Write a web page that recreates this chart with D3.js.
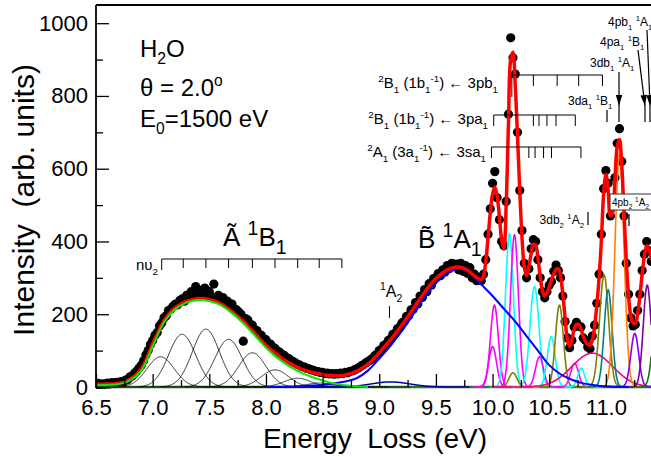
<!DOCTYPE html>
<html>
<head>
<meta charset="utf-8">
<script src="https://cdn.jsdelivr.net/npm/d3@7"></script>
<style>
  body{margin:0;background:#fff;}
  svg{display:block;font-family:"Liberation Sans",Arial,sans-serif;}
</style>
</head>
<body>
<svg id="chart" width="651" height="457"></svg>
<script>
// measured points (energy loss eV / intensity)
const dotE = [6.50,6.52,6.54,6.56,6.58,6.60,6.62,6.64,6.66,6.68,6.70,6.72,6.74,6.76,6.78,6.80,6.82,6.84,6.86,6.88,
  6.90,6.92,6.94,6.96,6.98,7.00,7.02,7.04,7.06,7.08,7.10,7.12,7.14,7.16,7.18,7.20,7.22,7.24,7.26,7.28,
  7.30,7.32,7.34,7.36,7.38,7.40,7.42,7.44,7.46,7.48,7.50,7.52,7.54,7.56,7.58,7.60,7.62,7.64,7.66,7.68,
  7.70,7.72,7.74,7.76,7.78,7.80,7.82,7.84,7.86,7.88,7.90,7.92,7.94,7.96,7.98,8.00,8.02,8.04,8.06,8.08,
  8.10,8.12,8.14,8.16,8.18,8.20,8.22,8.24,8.26,8.28,8.30,8.32,8.34,8.36,8.38,8.40,8.42,8.44,8.46,8.48,
  8.50,8.52,8.54,8.56,8.58,8.60,8.62,8.64,8.66,8.68,8.70,8.72,8.74,8.76,8.78,8.80,8.82,8.84,8.86,8.88,
  8.90,8.92,8.94,8.96,8.98,9.00,9.02,9.04,9.06,9.08,9.10,9.12,9.14,9.16,9.18,9.20,9.22,9.24,9.26,9.28,
  9.30,9.32,9.34,9.36,9.38,9.40,9.42,9.44,9.46,9.48,9.50,9.52,9.54,9.56,9.58,9.60,9.62,9.64,9.66,9.68,
  9.70,9.72,9.74,9.76,9.78,9.80,9.82,9.84,9.86,9.88,9.90,9.92,9.94,9.96,9.98,10.00,10.02,10.04,10.06,10.08,
  10.10,10.12,10.14,10.16,10.18,10.20,10.22,10.24,10.26,10.28,10.30,10.32,10.34,10.36,10.38,10.40,10.42,10.44,10.46,10.48,
  10.50,10.52,10.54,10.56,10.58,10.60,10.62,10.64,10.66,10.68,10.70,10.72,10.74,10.76,10.78,10.80,10.82,10.84,10.86,10.88,
  10.90,10.92,10.94,10.96,10.98,11.00,11.02,11.04,11.06,11.08,11.10,11.12,11.14,11.16,11.18,11.20,11.22,11.24,11.26,11.28,
  11.30,11.32,11.34,11.36,11.38,11.40];
const dotI = [5,10,6,9,7,11,8,12,9,13,11,15,13,19,20,28,30,38,44,52,
  60,72,88,100,117,128,142,150,168,176,190,196,210,214,222,228,226,238,242,236,
  252,246,262,250,276,258,266,250,272,255,262,248,283,245,252,240,246,232,236,224,
  228,215,212,206,200,126,188,184,172,170,158,155,145,142,132,130,120,118,110,106,
  99,96,90,87,81,78,73,70,66,62,60,56,55,51,50,47,46,43,42,40,
  40,37,38,36,37,35,37,36,38,37,40,39,43,44,47,50,53,58,61,66,
  70,74,78,86,90,100,104,114,118,128,132,145,148,160,165,176,180,194,196,212,
  214,232,228,250,246,268,262,284,280,298,300,312,306,322,316,334,326,340,332,338,
  322,340,318,334,312,328,300,310,292,300,292,310,350,420,490,560,592,520,460,400,
  388,510,750,960,905,860,700,540,430,340,300,325,380,405,400,350,300,262,245,262,
  280,290,318,335,320,300,250,180,135,108,128,165,178,168,165,135,128,110,105,140,
  170,230,310,420,545,595,560,470,500,575,670,710,620,470,340,255,190,168,172,210,
  255,320,365,400,375,345];

// total fit (red)
const fitE = [6.50,6.60,6.70,6.75,6.80,6.85,6.90,6.95,7.00,7.05,7.10,7.15,7.20,7.25,7.30,7.35,7.40,7.45,7.50,7.55,
  7.60,7.65,7.70,7.75,7.80,7.85,7.90,7.95,8.00,8.05,8.10,8.15,8.20,8.25,8.30,8.35,8.40,8.45,8.50,8.55,
  8.60,8.65,8.70,8.75,8.80,8.85,8.90,8.95,9.00,9.10,9.20,9.30,9.40,9.50,9.60,9.65,9.70,9.75,9.80,9.85,9.90,
  9.92,9.94,9.96,9.98,10.00,10.02,10.04,10.06,10.08,10.10,10.12,10.14,10.16,10.18,10.20,10.22,10.24,10.26,10.28,
  10.30,10.32,10.34,10.36,10.38,10.40,10.42,10.44,10.46,10.48,10.50,10.52,10.54,10.56,10.58,10.60,10.62,10.64,10.66,10.68,
  10.70,10.72,10.74,10.76,10.78,10.80,10.82,10.84,10.86,10.88,10.90,10.92,10.94,10.96,10.98,11.00,11.02,11.04,11.06,11.08,
  11.10,11.12,11.14,11.16,11.18,11.20,11.22,11.24,11.26,11.28,11.30,11.32,11.34,11.36,11.38,11.40];
const fitI = [8,8,10,13,22,33,50,80,118,152,182,203,218,228,236,240,243,243,240,236,
  229,219,207,194,180,164,148,131,115,101,88,77,67,58,51,45,41,37,34,32,
  31,31,33,37,43,52,63,77,94,130,170,215,260,298,322,328,330,326,316,303,295,
  305,345,410,480,530,550,525,470,405,380,500,720,900,920,830,690,540,410,330,
  305,330,365,392,390,355,305,265,250,258,275,295,312,323,325,305,255,190,130,112,
  130,158,172,172,160,140,125,117,115,128,165,225,300,400,530,585,540,470,480,570,
  660,680,610,480,350,250,195,176,175,200,250,310,360,388,380,350];

// A-band envelope (green) and B-band (blue)
const greenE = [6.50,6.70,6.80,6.90,7.00,7.10,7.20,7.30,7.40,7.45,7.50,7.60,7.70,7.80,7.90,8.00,8.10,8.20,8.30,8.40,8.50,8.60,8.70,8.80,8.90];
const greenI = [5,8,18,45,112,178,214,232,239,239,236,225,203,175,142,108,80,58,41,28,18,10,5,2,0];
const blueE = [8.00,8.30,8.50,8.70,8.80,8.90,9.00,9.10,9.20,9.30,9.40,9.50,9.60,9.70,9.75,9.80,9.90,10.00,10.10,10.20,10.30,10.40,10.50,10.60,10.70,10.80,10.90,11.00,11.20];
const blueI = [0,2,6,15,24,45,78,114,154,200,246,285,312,325,322,314,282,250,215,180,140,100,60,35,20,10,5,2,0];

// Gaussian components: A-band vibrational progression (black)
const aCen = [7.07,7.26,7.47,7.67,7.88,8.08,8.28,8.48,8.68];
const aAmp = [83,145,159,131,94,47,24,11,4];
const aWid = 0.12;
// 1A2 band
const a2Cen = 9.10, a2Amp = 14, a2Wid = 0.17;
// Rydberg components
const hiCen = [10.00,10.016,10.149,10.18,10.193,10.37,10.414,10.518,10.59,10.724,10.783,10.88,10.984,11.02,11.12,11.255,11.365,11.46];
const hiAmp = [111,225,422,39,418,276,83,138,225,65,51,93,308,267,640,147,280,260];
const hiWid = [0.035,0.035,0.035,0.035,0.035,0.04,0.035,0.035,0.035,0.035,0.03,0.18,0.04,0.035,0.04,0.035,0.035,0.04];
const hiCol = ["#ff00ff","#ff00ff","#00ffff","#808000","#ff00ff","#00ffff","#ff00ff","#00ffff","#808000","#ff00ff","#00ffff",
  "#ff0080","#808000","#008080","#ff8000","#8000ff","#8000a0","#008000"];

// annotation combs (eV)
const combNu2 = [7.08,7.27,7.47,7.67,7.88,8.08,8.28,8.47,8.67];
const comb3pb = [10.17,10.36,10.57,10.76,10.97];
const comb3pa = [10.01,10.36,10.41,10.48,10.56,10.73];
const comb3sa = [9.99,10.32,10.375,10.45,10.52,10.78];

const xMajor = [6.5,7.0,7.5,8.0,8.5,9.0,9.5,10.0,10.5,11.0];
const xMinor = [6.75,7.25,7.75,8.25,8.75,9.25,9.75,10.25,10.75,11.25];
const yMajor = [0,200,400,600,800,1000];
const yMinor = [100,300,500,700,900];

const svg = d3.select("#chart");
const LEFT = 96, TOP = 5, BOTTOM = 387, RIGHT = 651.2;
const x = d3.scaleLinear().domain([6.5, 11.4]).range([LEFT, RIGHT]);
const y = d3.scaleLinear().domain([0, 1050]).range([BOTTOM, TOP]);

svg.append("defs").append("clipPath").attr("id","clip")
  .append("rect").attr("x",LEFT).attr("y",TOP).attr("width",RIGHT-LEFT).attr("height",BOTTOM-TOP+2);
const plot = svg.append("g").attr("clip-path","url(#clip)");

const gauss = (e,c,h,w) => h*Math.exp(-(e-c)*(e-c)/(2*w*w));
const grid = d3.range(6.5, 11.4001, 0.004);
const line = d3.line().x(d=>x(d[0])).y(d=>y(d[1]));
const smooth = d3.line().x(d=>x(d[0])).y(d=>y(d[1])).curve(d3.curveCatmullRom);

// dots
plot.selectAll("circle.dot").data(dotE.map((e,i)=>[e,dotI[i]])).join("circle")
  .attr("class","dot").attr("cx",d=>x(d[0])).attr("cy",d=>y(d[1])).attr("r",4.6).attr("fill","#000");

// baseline
plot.append("line").attr("x1",x(6.5)).attr("x2",RIGHT).attr("y1",y(0)).attr("y2",y(0))
  .attr("stroke","#2a7a2a").attr("stroke-width",2.5);

// black components
aCen.forEach((c,i)=>{
  plot.append("path").datum(grid.filter(e=>Math.abs(e-c)<0.6).map(e=>[e,gauss(e,c,aAmp[i],aWid)]))
    .attr("d",line).attr("fill","none").attr("stroke","#000").attr("stroke-width",0.8);
});
plot.append("path").datum(grid.filter(e=>Math.abs(e-a2Cen)<0.7).map(e=>[e,gauss(e,a2Cen,a2Amp,a2Wid)]))
  .attr("d",line).attr("fill","none").attr("stroke","#0000a0").attr("stroke-width",1.5);

hiCen.forEach((c,i)=>{
  const span = hiWid[i]*5;
  plot.append("path").datum(grid.filter(e=>Math.abs(e-c)<span).map(e=>[e,gauss(e,c,hiAmp[i],hiWid[i])]))
    .attr("d",line).attr("fill","none").attr("stroke",hiCol[i]).attr("stroke-width",1.6);
});

plot.append("path").datum(blueE.map((e,i)=>[e,blueI[i]])).attr("d",smooth)
  .attr("fill","none").attr("stroke","#0000ff").attr("stroke-width",2);
plot.append("path").datum(fitE.map((e,i)=>[e,fitI[i]])).attr("d",smooth)
  .attr("fill","none").attr("stroke","#ff0000").attr("stroke-width",3.5);
plot.append("path").datum(greenE.map((e,i)=>[e,greenI[i]])).attr("d",smooth)
  .attr("fill","none").attr("stroke","#00ee00").attr("stroke-width",2);

// axes
const fs = 22;
svg.append("g").attr("transform",`translate(0,${BOTTOM})`)
  .call(d3.axisBottom(x).tickValues(xMajor).tickSize(-13).tickPadding(12).tickFormat(d3.format(".1f")));
svg.append("g").attr("transform",`translate(0,${BOTTOM})`)
  .call(d3.axisBottom(x).tickValues(xMinor).tickSize(-7).tickFormat(""));
svg.append("g").attr("transform",`translate(${LEFT},0)`)
  .call(d3.axisLeft(y).tickValues(yMajor).tickSize(-13).tickPadding(8).tickFormat(d3.format("d")));
svg.append("g").attr("transform",`translate(${LEFT},0)`)
  .call(d3.axisLeft(y).tickValues(yMinor).tickSize(-7).tickFormat(""));
svg.selectAll(".domain").remove();
svg.selectAll(".tick line").attr("stroke","#000").attr("stroke-width",1.3);
svg.selectAll(".tick text").attr("font-size",fs).attr("fill","#000").attr("font-family","Liberation Sans, Arial, sans-serif");

// frame
svg.append("line").attr("x1",LEFT).attr("x2",LEFT).attr("y1",TOP).attr("y2",BOTTOM+1).attr("stroke","#000").attr("stroke-width",1.8);
svg.append("line").attr("x1",LEFT).attr("x2",651).attr("y1",TOP).attr("y2",TOP).attr("stroke","#000").attr("stroke-width",1.8);

// titles
svg.append("text").attr("x",375).attr("y",448).attr("text-anchor","middle").attr("font-size",28).text("Energy\u00a0\u00a0Loss (eV)");
svg.append("text").attr("transform","translate(34,200) rotate(-90)").attr("text-anchor","middle").attr("font-size",30).text("Intensity\u00a0\u00a0(arb. units)");

// rich text helper: parts as strings or [text,"b"|"p"]
function rich(t, parts, size, scale){
  let off = 0;
  const sc = scale || 0.65;
  parts.forEach(p=>{
    const [s,k] = Array.isArray(p) ? p : [p,""];
    const target = k==="b" ? size*0.3 : k==="p" ? -size*0.42 : 0;
    t.append("tspan").attr("dy",target-off).attr("font-size",k ? size*sc : size).text(s);
    off = target;
  });
  return t;
}
function label(xp, yp, parts, size, anchor, scale){
  const t = svg.append("text").attr("x",xp).attr("y",yp).attr("font-size",size).attr("text-anchor",anchor||"start").attr("fill","#000");
  return rich(t, parts, size, scale);
}

label(140,57,["H",["2","b"],"O"],24);
label(140,96,["\u03b8 = 2.0",["o","p"]],24);
label(140,127,["E",["0","b"],"=1500 eV"],24);

label(223,246,["\u00c3 ",["1","p"],"B",["1","b"]],26,"start",0.75);
label(418,248,["B\u0303 ",["1","p"],"A",["1","b"]],26,"start",0.75);
label(158,270,["n\u03c5",["2","b"]],15,"end");
label(380,297,[["1","p"],"A",["2","b"]],16,"start");

// combs
const combG = svg.append("g").attr("stroke","#000").attr("stroke-width",1);
function comb(vals, yy, len, firstLen){
  combG.append("line").attr("x1",x(vals[0])).attr("x2",x(vals[vals.length-1])).attr("y1",yy).attr("y2",yy);
  vals.forEach((v,i)=>combG.append("line").attr("x1",x(v)).attr("x2",x(v)).attr("y1",yy).attr("y2",yy+(i===0&&firstLen?firstLen:len)));
}
comb(combNu2,259,9,11);
comb(comb3pb,75,11,22);
comb(comb3pa,115,11);
comb(comb3sa,147,11);
combG.append("line").attr("x1",x(9.09)).attr("x2",x(9.09)).attr("y1",306).attr("y2",318);

label(498,88,[["2","p"],"B",["1","b"]," (1b",["1","b"],["-1","p"],") \u2190 3pb",["1","b"]],15,"end");
label(488,124,[["2","p"],"B",["1","b"]," (1b",["1","b"],["-1","p"],") \u2190 3pa",["1","b"]],15,"end");
label(486,157,[["2","p"],"A",["1","b"]," (3a",["1","b"],["-1","p"],") \u2190 3sa",["1","b"]],15,"end");

label(590,67,["3db",["1","b"]," ",["1","p"],"A",["1","b"]],12);
label(568,105,["3da",["1","b"]," ",["1","p"],"B",["1","b"]],12);
label(600,46,["4pa",["1","b"]," ",["1","p"],"B",["1","b"]],12);
label(608,26,["4pb",["1","b"]," ",["1","p"],"A",["1","b"]],12);
label(584,224,["3db",["2","b"]," ",["1","p"],"A",["2","b"]],12,"end");

// markers and arrows
const mk = svg.append("g").attr("stroke","#000").attr("stroke-width",1.2);
mk.append("line").attr("x1",607).attr("x2",607).attr("y1",110).attr("y2",122);
mk.append("line").attr("x1",588).attr("x2",588).attr("y1",212).attr("y2",225);
mk.append("line").attr("x1",629).attr("x2",629).attr("y1",214).attr("y2",226);
function arrow(x1,y1,x2,y2,yEnd){
  mk.append("line").attr("x1",x1).attr("y1",y1).attr("x2",x2).attr("y2",y2);
  mk.append("line").attr("x1",x2).attr("y1",y2).attr("x2",x2).attr("y2",yEnd);
  const ang = Math.atan2(y2-y1,x2-x1);
  const L = 11, W = 3.2;
  const bx = x2-L*Math.cos(ang), by = y2-L*Math.sin(ang);
  svg.append("path").attr("d",`M${x2},${y2}L${bx-W*Math.sin(ang)},${by+W*Math.cos(ang)}L${bx+W*Math.sin(ang)},${by-W*Math.cos(ang)}Z`).attr("fill","#000");
}
arrow(619,72,619,106,122);
arrow(638,50,645,106,122);
arrow(647,30,650,106,122);

// boxed label
svg.append("rect").attr("x",610).attr("y",194).attr("width",42).attr("height",16).attr("fill","#fff").attr("stroke","#333").attr("stroke-width",1);
label(612,206,["4pb",["2","b"]," ",["1","p"],"A",["2","b"]],10);
</script>
</body>
</html>
